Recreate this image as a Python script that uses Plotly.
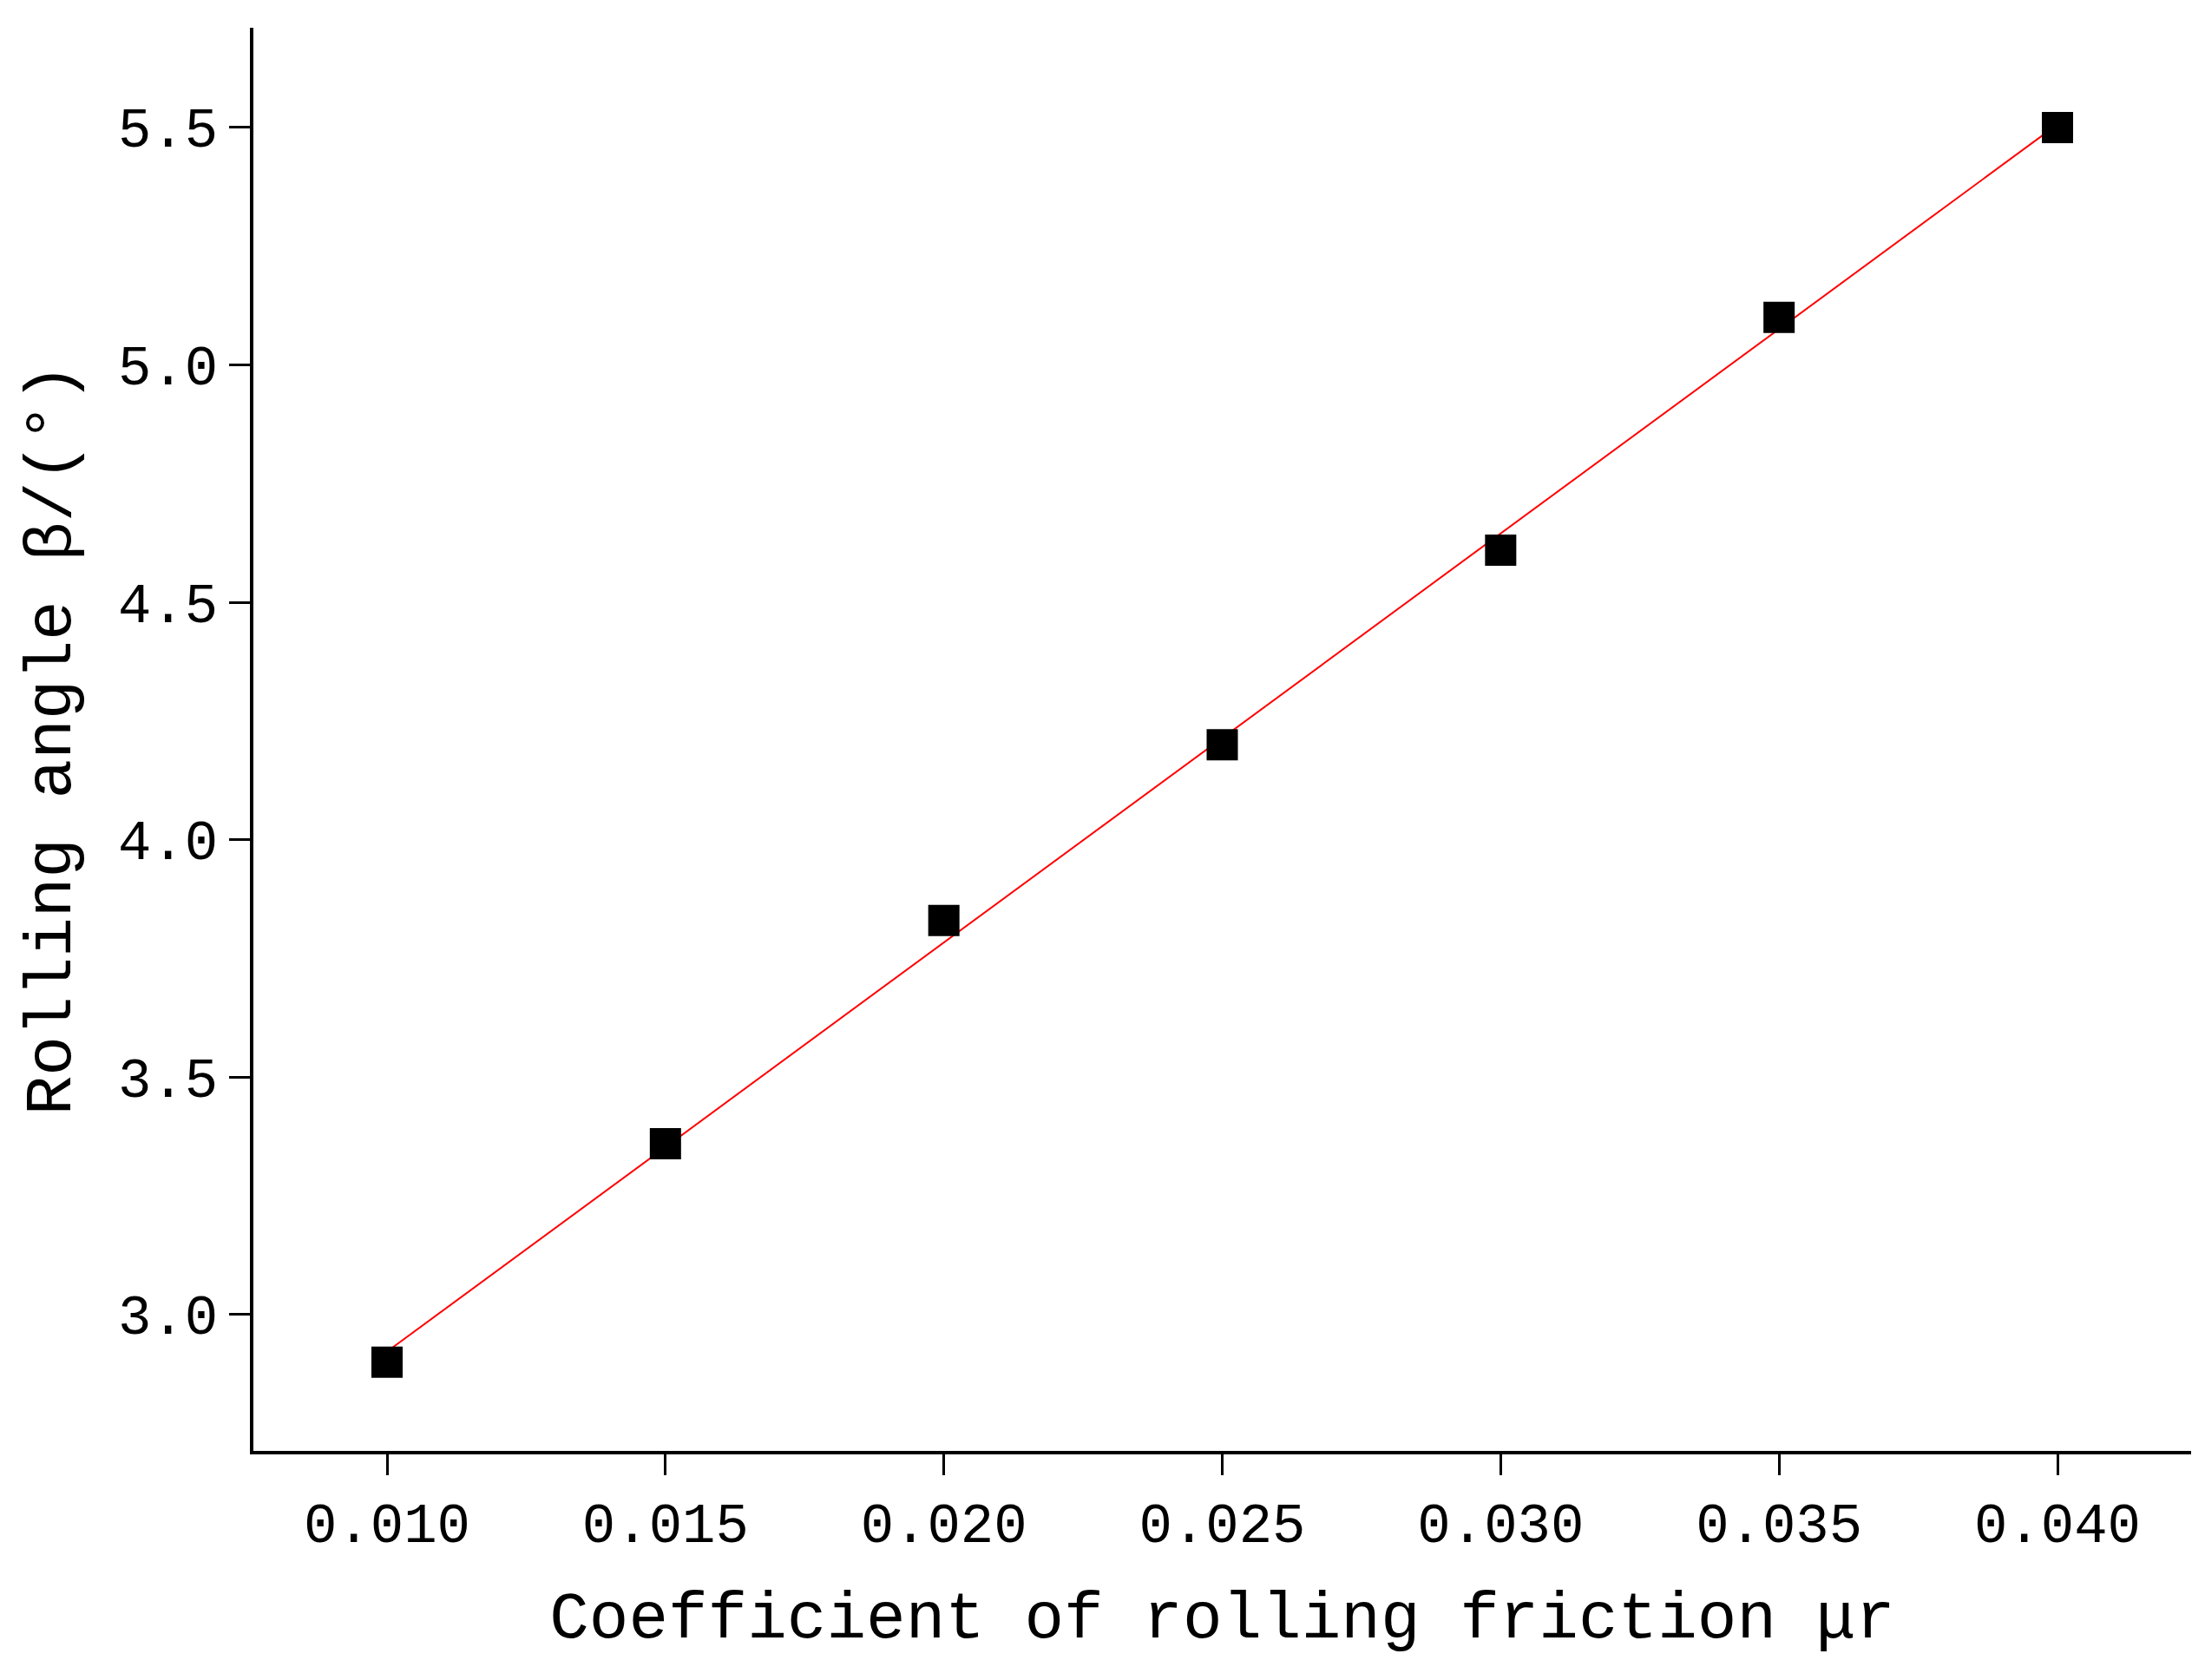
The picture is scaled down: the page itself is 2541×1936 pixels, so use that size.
import numpy as np
import plotly.graph_objects as go

mu = [0.010, 0.015, 0.020, 0.025, 0.030, 0.035, 0.040]
beta = [2.90, 3.36, 3.83, 4.20, 4.61, 5.10, 5.50]
xticks = [0.010, 0.015, 0.020, 0.025, 0.030, 0.035, 0.040]
xticklabels = ["0.010", "0.015", "0.020", "0.025", "0.030", "0.035", "0.040"]
yticks = [3.0, 3.5, 4.0, 4.5, 5.0, 5.5]
yticklabels = ["3.0", "3.5", "4.0", "4.5", "5.0", "5.5"]

k, b = np.polyfit(mu, beta, 1)
fit_x = [mu[0], mu[-1]]
fit_y = [k * v + b for v in fit_x]

fig = go.Figure()
fig.add_trace(go.Scatter(x=fit_x, y=fit_y, mode="lines", line=dict(color="red", width=2), showlegend=False))
fig.add_trace(go.Scatter(x=mu, y=beta, mode="markers", marker=dict(symbol="square", size=36, color="black"), showlegend=False))

font = "Liberation Mono"
axis_common = dict(showline=True, linecolor="black", linewidth=4, ticks="outside", ticklen=24, tickwidth=3,
                   tickcolor="black", showgrid=False, zeroline=False, tickfont=dict(family=font, size=64, color="black"))
fig.update_xaxes(range=[0.0076, 0.0424], tickvals=xticks, ticktext=xticklabels,
                 title=dict(text="Coefficient of rolling friction μr", font=dict(family=font, size=76, color="black"), standoff=40),
                 **axis_common)
fig.update_yaxes(range=[2.713, 5.71], tickvals=yticks, ticktext=yticklabels,
                 title=dict(text="Rolling angle β/(°)", font=dict(family=font, size=76, color="black"), standoff=30),
                 **axis_common)
fig.update_layout(width=2541, height=1936, plot_bgcolor="white", paper_bgcolor="white",
                  margin=dict(l=284, r=24, t=24, b=272))
fig.write_html("out.html")
